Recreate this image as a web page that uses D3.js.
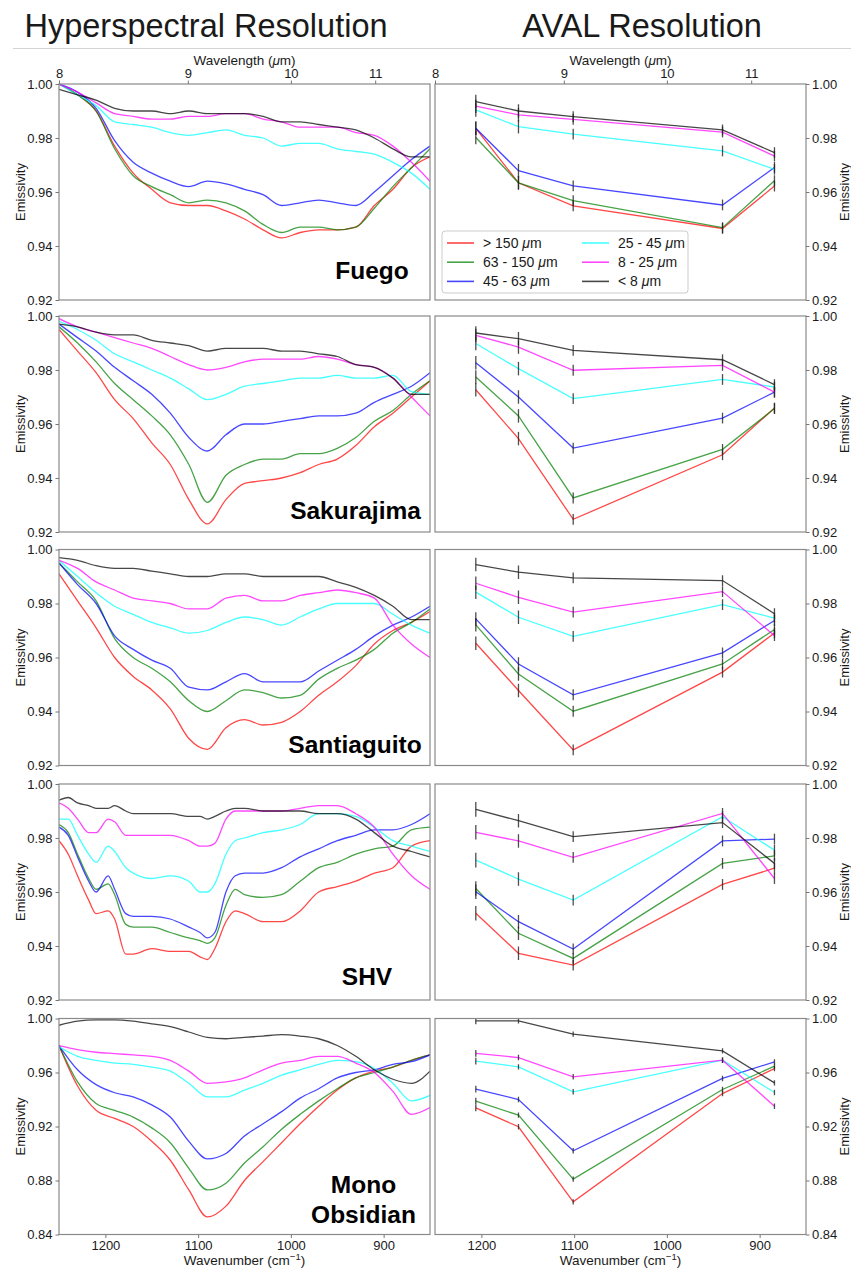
<!DOCTYPE html>
<html><head><meta charset="utf-8">
<script src="https://cdn.jsdelivr.net/npm/d3@7"></script>
<style>
body{margin:0;background:#fff;}
svg{display:block;font-family:"Liberation Sans",Arial,sans-serif;}
</style></head>
<body><svg id="chart" width="851" height="1271"></svg>
<script>
// ---------------- DATA ----------------
const sizePrefixes = ["> 150", "63 - 150", "45 - 63", "25 - 45", "8 - 25", "< 8"];
const seriesColors = ["red", "green", "blue", "cyan", "magenta", "black"];
const sampleNames = ["Fuego", "Sakurajima", "Santiaguito", "SHV", "Mono Obsidian"];

const hyperWavenumber = [1250,1230,1210,1190,1170,1150,1130,1110,1090,1070,1050,1030,1010,990,970,950,930,910,890,870,850];
const shvWavenumber = [1250,1240,1230,1218,1210,1197,1190,1178,1170,1150,1130,1110,1098,1090,1082,1070,1060,1050,1030,1010,990,970,950,930,910,890,870,850];
const avalWavenumber = [1206, 1160, 1101, 940, 884];
const wavelengthTicks = [8, 9, 10, 11];
const wavenumberTicks = [1200, 1100, 1000, 900];
const yTicksFine = [0.92, 0.94, 0.96, 0.98, 1.00];
const yTicksWide = [0.84, 0.88, 0.92, 0.96, 1.00];

// series order: >150, 63-150, 45-63, 25-45, 8-25, <8
const fuegoHyper = [
  [1.000,0.996,0.990,0.977,0.967,0.961,0.956,0.955,0.955,0.953,0.950,0.946,0.943,0.945,0.946,0.946,0.947,0.955,0.961,0.969,0.973],
  [1.000,0.996,0.990,0.976,0.966,0.962,0.959,0.956,0.957,0.956,0.953,0.948,0.945,0.947,0.947,0.946,0.947,0.954,0.962,0.969,0.976],
  [1.000,0.997,0.991,0.979,0.971,0.967,0.964,0.962,0.964,0.963,0.961,0.959,0.955,0.956,0.957,0.956,0.955,0.960,0.966,0.972,0.977],
  [1.000,0.996,0.992,0.986,0.985,0.984,0.982,0.981,0.982,0.983,0.981,0.980,0.977,0.978,0.978,0.976,0.975,0.974,0.971,0.967,0.961],
  [1.000,0.997,0.993,0.989,0.988,0.987,0.987,0.988,0.988,0.989,0.989,0.987,0.986,0.984,0.984,0.984,0.982,0.981,0.977,0.971,0.964],
  [0.998,0.996,0.994,0.991,0.990,0.990,0.989,0.990,0.989,0.989,0.989,0.988,0.986,0.986,0.985,0.984,0.983,0.980,0.976,0.973,0.973]
];
const sakurajimaHyper = [
  [0.995,0.987,0.979,0.969,0.962,0.953,0.945,0.932,0.923,0.932,0.938,0.939,0.940,0.942,0.945,0.947,0.952,0.959,0.964,0.970,0.976],
  [0.996,0.990,0.983,0.975,0.969,0.963,0.956,0.945,0.931,0.941,0.945,0.947,0.947,0.949,0.949,0.951,0.955,0.961,0.965,0.971,0.976],
  [0.997,0.992,0.987,0.981,0.976,0.971,0.964,0.955,0.950,0.956,0.960,0.960,0.961,0.962,0.963,0.963,0.964,0.968,0.971,0.974,0.979],
  [0.998,0.995,0.991,0.986,0.983,0.980,0.977,0.973,0.969,0.971,0.974,0.975,0.976,0.977,0.977,0.978,0.977,0.977,0.978,0.972,0.971],
  [0.999,0.996,0.994,0.992,0.990,0.988,0.985,0.982,0.980,0.981,0.983,0.984,0.984,0.984,0.985,0.984,0.982,0.981,0.977,0.970,0.963],
  [0.997,0.996,0.994,0.993,0.993,0.991,0.990,0.989,0.987,0.988,0.988,0.988,0.987,0.987,0.986,0.985,0.982,0.981,0.977,0.971,0.971]
];
const santiaguitoHyper = [
  [0.991,0.981,0.971,0.960,0.953,0.948,0.941,0.930,0.926,0.934,0.937,0.935,0.936,0.940,0.946,0.951,0.957,0.965,0.970,0.973,0.977],
  [0.995,0.988,0.981,0.967,0.960,0.956,0.951,0.944,0.940,0.944,0.948,0.947,0.945,0.946,0.952,0.956,0.959,0.963,0.969,0.973,0.978],
  [0.995,0.987,0.980,0.968,0.963,0.959,0.956,0.949,0.948,0.951,0.954,0.951,0.951,0.951,0.955,0.959,0.963,0.968,0.972,0.975,0.979],
  [0.996,0.990,0.984,0.979,0.976,0.973,0.971,0.969,0.970,0.973,0.975,0.974,0.972,0.975,0.978,0.980,0.980,0.980,0.976,0.972,0.969],
  [0.996,0.993,0.988,0.985,0.982,0.981,0.980,0.978,0.978,0.982,0.983,0.981,0.981,0.983,0.984,0.985,0.984,0.982,0.972,0.965,0.960],
  [0.997,0.996,0.994,0.993,0.993,0.992,0.991,0.990,0.990,0.991,0.991,0.990,0.990,0.990,0.990,0.988,0.986,0.983,0.979,0.974,0.974]
];
const shvHyper = [
  [0.979,0.974,0.966,0.957,0.952,0.953,0.950,0.937,0.937,0.939,0.938,0.938,0.936,0.935,0.939,0.949,0.953,0.952,0.949,0.949,0.953,0.960,0.962,0.964,0.967,0.969,0.977,0.979],
  [0.985,0.982,0.974,0.965,0.961,0.963,0.959,0.948,0.947,0.947,0.945,0.943,0.942,0.941,0.943,0.955,0.961,0.959,0.958,0.959,0.964,0.969,0.971,0.974,0.976,0.977,0.983,0.984],
  [0.984,0.981,0.973,0.964,0.960,0.966,0.961,0.952,0.951,0.951,0.950,0.947,0.945,0.943,0.945,0.960,0.966,0.967,0.967,0.969,0.973,0.976,0.979,0.981,0.983,0.983,0.985,0.989],
  [0.987,0.987,0.981,0.974,0.971,0.977,0.975,0.969,0.967,0.965,0.966,0.964,0.960,0.960,0.963,0.974,0.979,0.980,0.982,0.983,0.985,0.989,0.989,0.988,0.984,0.979,0.977,0.975],
  [0.993,0.991,0.987,0.982,0.982,0.987,0.986,0.981,0.981,0.981,0.981,0.979,0.977,0.977,0.978,0.987,0.990,0.990,0.990,0.990,0.991,0.992,0.992,0.989,0.984,0.974,0.966,0.961],
  [0.994,0.995,0.993,0.992,0.991,0.991,0.992,0.990,0.989,0.989,0.989,0.988,0.988,0.987,0.988,0.990,0.991,0.991,0.990,0.990,0.990,0.989,0.989,0.987,0.982,0.977,0.975,0.973]
];
const monoHyper = [
  [0.980,0.950,0.932,0.926,0.920,0.909,0.895,0.873,0.853,0.861,0.880,0.894,0.908,0.922,0.935,0.947,0.956,0.961,0.964,0.969,0.973],
  [0.980,0.953,0.937,0.932,0.927,0.919,0.908,0.889,0.873,0.878,0.893,0.905,0.918,0.929,0.939,0.948,0.956,0.960,0.964,0.969,0.973],
  [0.980,0.962,0.951,0.945,0.942,0.936,0.927,0.909,0.896,0.900,0.913,0.922,0.931,0.941,0.948,0.956,0.960,0.962,0.966,0.968,0.973],
  [0.979,0.972,0.969,0.967,0.966,0.964,0.961,0.952,0.942,0.942,0.947,0.952,0.958,0.962,0.966,0.969,0.968,0.963,0.952,0.939,0.943],
  [0.980,0.977,0.975,0.974,0.973,0.972,0.969,0.961,0.952,0.953,0.956,0.962,0.967,0.969,0.972,0.972,0.967,0.960,0.946,0.929,0.934],
  [0.995,0.998,0.999,0.999,0.998,0.996,0.994,0.990,0.986,0.985,0.986,0.987,0.988,0.987,0.985,0.980,0.972,0.962,0.955,0.952,0.961]
];

const fuegoAval = [
  [0.9836,0.9634,0.9549,0.9465,0.9622],
  [0.9802,0.9634,0.9568,0.9468,0.9642],
  [0.9836,0.9679,0.9623,0.9552,0.9691],
  [0.9904,0.9842,0.9814,0.9752,0.9684],
  [0.9918,0.9886,0.9869,0.9822,0.9733],
  [0.9935,0.9900,0.9879,0.9830,0.9746]
];
const sakurajimaAval = [
  [0.9727,0.9546,0.9247,0.9486,0.9659],
  [0.9774,0.9630,0.9326,0.9506,0.9657],
  [0.9827,0.9700,0.9511,0.9622,0.9718],
  [0.9898,0.9805,0.9694,0.9765,0.9737],
  [0.9928,0.9885,0.9799,0.9817,0.9718],
  [0.9937,0.9916,0.9873,0.9838,0.9746]
];
const santiaguitoAval = [
  [0.9653,0.9478,0.9258,0.9546,0.9691],
  [0.9721,0.9539,0.9401,0.9576,0.9704],
  [0.9743,0.9576,0.9462,0.9617,0.9737],
  [0.9842,0.9749,0.9678,0.9796,0.9746],
  [0.9875,0.9823,0.9768,0.9844,0.9681],
  [0.9944,0.9916,0.9895,0.9885,0.9762]
];
const shvAval = [
  [0.9521,0.9373,0.9329,0.9628,0.9688],
  [0.9613,0.9447,0.9354,0.9706,0.9734],
  [0.9601,0.9490,0.9389,0.9789,0.9796],
  [0.9718,0.9648,0.9570,0.9879,0.9755],
  [0.9821,0.9789,0.9728,0.9891,0.9650],
  [0.9906,0.9864,0.9805,0.9857,0.9706]
];
const monoAval = [
  [0.9338,0.9198,0.8642,0.9444,0.9629],
  [0.9388,0.9284,0.8810,0.9474,0.9647],
  [0.9477,0.9400,0.9020,0.9556,0.9679],
  [0.9684,0.9642,0.9457,0.9691,0.9452],
  [0.9741,0.9711,0.9568,0.9691,0.9350],
  [0.9983,0.9983,0.9884,0.9760,0.9523]
];
// error bar half-widths per band
const fuegoAvalErr = [0.0025,0.0025,0.002,0.002,0.002];
const sakurajimaAvalErr = [0.0025,0.0025,0.002,0.002,0.002];
const santiaguitoAvalErr = [0.0025,0.0025,0.002,0.002,0.002];
const shvAvalErr = [0.0027,0.0025,0.002,0.002,0.002];
const monoAvalErr = [0.0025,0.002,0.002,0.002,0.002];

// ---------------- LAYOUT ----------------
const W = 851, H = 1271;
const leftRange = [59, 430], rightRange = [435, 806];
const rowTops = [84, 316, 549.5, 784, 1018.5];
const rowH = 216;
const xDomain = [1250, 850];
const labelLayout = [
  {lines:["Fuego"], x:372, y:[279]},
  {lines:["Sakurajima"], x:355.5, y:[518.5]},
  {lines:["Santiaguito"], x:355, y:[752.5]},
  {lines:["SHV"], x:367, y:[985]},
  {lines:["Mono","Obsidian"], x:363.5, y:[1193,1223]}
];
const rows = [
  {hyper:fuegoHyper, wn:hyperWavenumber, aval:fuegoAval, err:fuegoAvalErr, ticks:yTicksFine},
  {hyper:sakurajimaHyper, wn:hyperWavenumber, aval:sakurajimaAval, err:sakurajimaAvalErr, ticks:yTicksFine},
  {hyper:santiaguitoHyper, wn:hyperWavenumber, aval:santiaguitoAval, err:santiaguitoAvalErr, ticks:yTicksFine},
  {hyper:shvHyper, wn:shvWavenumber, aval:shvAval, err:shvAvalErr, ticks:yTicksFine},
  {hyper:monoHyper, wn:hyperWavenumber, aval:monoAval, err:monoAvalErr, ticks:yTicksWide}
];

const spineColor = "#8a8a8a", tickColor = "#777", textColor = "#1a1a1a";
const svg = d3.select("#chart");
svg.append("rect").attr("width", W).attr("height", H).attr("fill", "#fff");
const defs = svg.append("defs");

// titles
svg.append("text").attr("x", 206).attr("y", 37).attr("text-anchor", "middle")
  .attr("font-size", 32.5).attr("fill", textColor).text("Hyperspectral Resolution");
svg.append("text").attr("x", 642).attr("y", 37).attr("text-anchor", "middle")
  .attr("font-size", 32.5).attr("fill", textColor).text("AVAL Resolution");
svg.append("line").attr("x1", 13).attr("x2", 851).attr("y1", 48.5).attr("y2", 48.5)
  .attr("stroke", "#d4d4d4").attr("stroke-width", 1);

function styleAxis(g) {
  g.select(".domain").remove();
  g.selectAll(".tick line").attr("stroke", tickColor).attr("stroke-width", 1);
  g.selectAll(".tick text").attr("fill", textColor);
  g.attr("font-size", 13).attr("font-family", '"Liberation Sans",Arial,sans-serif');
}

function wavelengthLabel(g, cx) {
  const t = g.append("text").attr("x", cx).attr("y", 64.5).attr("text-anchor", "middle")
    .attr("font-size", 13.5).attr("fill", textColor);
  t.append("tspan").text("Wavelength (");
  t.append("tspan").attr("font-style", "italic").text("μ");
  t.append("tspan").text("m)");
}
function wavenumberLabel(g, cx) {
  const t = g.append("text").attr("x", cx).attr("y", 1265).attr("text-anchor", "middle")
    .attr("font-size", 13.5).attr("fill", textColor);
  t.append("tspan").text("Wavenumber (cm");
  t.append("tspan").attr("font-size", 9.5).attr("dy", -5).text("−1");
  t.append("tspan").attr("dy", 5).text(")");
}

const lineGen = (x, y, curve) => d3.line().x(d => x(d[0])).y(d => y(d[1])).curve(curve);

rows.forEach((row, r) => {
  const top = rowTops[r];
  const y = d3.scaleLinear().domain([row.ticks[0], 1.0]).range([top + rowH, top]);
  const xL = d3.scaleLinear().domain(xDomain).range(leftRange);
  const xR = d3.scaleLinear().domain(xDomain).range(rightRange);

  [["L", leftRange], ["R", rightRange]].forEach(([k, rg]) => {
    defs.append("clipPath").attr("id", `clip${k}${r}`).append("rect")
      .attr("x", rg[0]).attr("y", top).attr("width", rg[1] - rg[0]).attr("height", rowH);
  });

  // ----- left: hyperspectral -----
  const gL = svg.append("g");
  const plotL = gL.append("g").attr("clip-path", `url(#clipL${r})`);
  row.hyper.forEach((vals, s) => {
    plotL.append("path").datum(row.wn.map((w, i) => [w, vals[i]]))
      .attr("d", lineGen(xL, y, d3.curveMonotoneX)).attr("fill", "none")
      .attr("stroke", seriesColors[s]).attr("stroke-opacity", 0.72)
      .attr("stroke-width", 1.3).attr("stroke-linejoin", "round");
  });
  gL.append("rect").attr("x", leftRange[0]).attr("y", top)
    .attr("width", leftRange[1] - leftRange[0]).attr("height", rowH)
    .attr("fill", "none").attr("stroke", spineColor).attr("stroke-width", 1.2);
  gL.append("g").attr("transform", `translate(${leftRange[0]},0)`)
    .call(d3.axisLeft(y).tickValues(row.ticks).tickFormat(d3.format(".2f")).tickSize(3.5).tickPadding(3))
    .call(styleAxis);
  gL.append("text").attr("transform", `translate(25,${top + rowH / 2}) rotate(-90)`)
    .attr("text-anchor", "middle").attr("font-size", 13).attr("fill", textColor).text("Emissivity");

  // sample label
  const lab = labelLayout[r];
  lab.lines.forEach((ln, i) => {
    gL.append("text").attr("x", lab.x).attr("y", lab.y[i]).attr("text-anchor", "middle")
      .attr("font-size", 24.5).attr("font-weight", "bold").attr("fill", "#000").text(ln);
  });

  // ----- right: AVAL -----
  const gR = svg.append("g");
  const plotR = gR.append("g").attr("clip-path", `url(#clipR${r})`);
  row.aval.forEach((vals, s) => {
    const pts = avalWavenumber.map((w, i) => [w, vals[i]]);
    plotR.append("path").datum(pts).attr("d", lineGen(xR, y, d3.curveLinear)).attr("fill", "none")
      .attr("stroke", seriesColors[s]).attr("stroke-opacity", 0.72).attr("stroke-width", 1.3);
    plotR.selectAll(null).data(pts).enter().append("line")
      .attr("x1", d => xR(d[0])).attr("x2", d => xR(d[0]))
      .attr("y1", (d, i) => y(d[1] - row.err[i])).attr("y2", (d, i) => y(d[1] + row.err[i]))
      .attr("stroke", "#222").attr("stroke-opacity", 0.8).attr("stroke-width", 1.3);
  });
  gR.append("rect").attr("x", rightRange[0]).attr("y", top)
    .attr("width", rightRange[1] - rightRange[0]).attr("height", rowH)
    .attr("fill", "none").attr("stroke", spineColor).attr("stroke-width", 1.2);
  gR.append("g").attr("transform", `translate(${rightRange[1]},0)`)
    .call(d3.axisRight(y).tickValues(row.ticks).tickFormat(d3.format(".2f")).tickSize(3.5).tickPadding(2.5))
    .call(styleAxis);
  gR.append("text").attr("transform", `translate(849,${top + rowH / 2}) rotate(-90)`)
    .attr("text-anchor", "middle").attr("font-size", 13).attr("fill", textColor).text("Emissivity");

  // top wavelength axis (first row)
  if (r === 0) {
    [[gL, xL, leftRange], [gR, xR, rightRange]].forEach(([g, x, rg]) => {
      g.append("g").attr("transform", `translate(0,${top})`)
        .call(d3.axisTop(x).tickValues(wavelengthTicks.map(l => 10000 / l))
          .tickFormat(d => String(Math.round(10000 / d))).tickSize(3.5).tickPadding(3))
        .call(styleAxis);
      wavelengthLabel(g, (rg[0] + rg[1]) / 2);
    });
  }
  // bottom wavenumber axis (last row)
  if (r === rows.length - 1) {
    [[gL, xL, leftRange], [gR, xR, rightRange]].forEach(([g, x, rg]) => {
      g.append("g").attr("transform", `translate(0,${top + rowH})`)
        .call(d3.axisBottom(x).tickValues(wavenumberTicks).tickFormat(d3.format("d")).tickSize(3.5).tickPadding(3))
        .call(styleAxis);
      wavenumberLabel(g, (rg[0] + rg[1]) / 2);
    });
  }

  // legend (first row, AVAL panel)
  if (r === 0) {
    const lg = gR.append("g");
    lg.append("rect").attr("x", 442).attr("y", 231).attr("width", 246).attr("height", 62)
      .attr("rx", 3).attr("fill", "#fff").attr("fill-opacity", 0.85)
      .attr("stroke", "#cccccc").attr("stroke-width", 1);
    sizePrefixes.forEach((p, i) => {
      const col = Math.floor(i / 3), rw = i % 3;
      const lx = col === 0 ? 447 : 582;
      const ly = 243 + rw * 19.2;
      lg.append("line").attr("x1", lx).attr("x2", lx + 27).attr("y1", ly).attr("y2", ly)
        .attr("stroke", seriesColors[i]).attr("stroke-opacity", 0.72).attr("stroke-width", 1.6);
      const t = lg.append("text").attr("x", lx + 36).attr("y", ly + 4.8)
        .attr("font-size", 14).attr("fill", textColor);
      t.append("tspan").text(p + " ");
      t.append("tspan").attr("font-style", "italic").text("μ");
      t.append("tspan").text("m");
    });
  }
});
</script>
</body></html>
